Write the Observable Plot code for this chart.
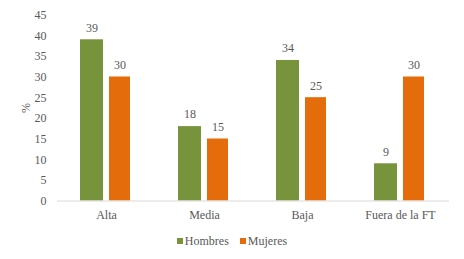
<!DOCTYPE html>
<html>
<head>
<meta charset="utf-8">
<script src="https://cdn.jsdelivr.net/npm/d3@7"></script>
<script src="https://cdn.jsdelivr.net/npm/@observablehq/plot@0.6"></script>
<style>
  body { margin: 0; background: #fff; font-family: "Liberation Serif", "DejaVu Serif", serif; }
  #chart { width: 464px; }
  .legend { display: flex; justify-content: center; align-items: center; gap: 11px; font-size: 12px; color: #595959; height: 26px; margin-top: 0px; }
  .legend span.item { display: flex; align-items: center; gap: 2px; }
  .legend span.sw { width: 6px; height: 6px; display: inline-block; }
</style>
</head>
<body>
<div id="chart"></div>
<script>
const categories = ["Alta", "Media", "Baja", "Fuera de la FT"];
const series = ["Hombres", "Mujeres"];
const hombres = [39, 18, 34, 9];
const mujeres = [30, 15, 25, 30];
const yTicks = [0, 5, 10, 15, 20, 25, 30, 35, 40, 45];
const colors = ["#77933C", "#E46C0A"];

const rowsH = categories.map((c, i) => ({cat: c, series: series[0], value: hombres[i]}));
const rowsM = categories.map((c, i) => ({cat: c, series: series[1], value: mujeres[i]}));

const plot = Plot.plot({
  width: 464,
  height: 228,
  marginLeft: 57,
  marginRight: 15,
  marginTop: 14.5,
  marginBottom: 27.5,
  style: {fontFamily: "Liberation Serif", fontSize: "12px", color: "#595959", background: "#fff"},
  x: {domain: categories, padding: 0, label: null},
  y: {domain: [0, 45], label: null},
  color: {domain: series, range: colors},
  marks: [
    Plot.barY(rowsH, {x: "cat", y: "value", fill: "series", insetLeft: 23, insetRight: 52}),
    Plot.barY(rowsM, {x: "cat", y: "value", fill: "series", insetLeft: 52, insetRight: 25}),
    Plot.ruleY([0], {stroke: "#d9d9d9", strokeWidth: 1.2}),
    Plot.text(rowsH, {x: "cat", y: "value", text: d => String(d.value), dx: -14.5, dy: -12, fill: "#595959"}),
    Plot.text(rowsM, {x: "cat", y: "value", text: d => String(d.value), dx: 13.5, dy: -12, fill: "#595959"}),
    Plot.axisX({tickSize: 0, tickPadding: 9, label: null}),
    Plot.axisY({ticks: yTicks, tickSize: 0, tickPadding: 11, label: "%", labelAnchor: "center", labelArrow: "none", labelOffset: 36})
  ]
});
document.getElementById("chart").appendChild(plot);

const legend = document.createElement("div");
legend.className = "legend";
series.forEach((s, i) => {
  const item = document.createElement("span");
  item.className = "item";
  const sw = document.createElement("span");
  sw.className = "sw";
  sw.style.background = colors[i];
  const t = document.createElement("span");
  t.textContent = s;
  item.appendChild(sw);
  item.appendChild(t);
  legend.appendChild(item);
});
document.getElementById("chart").appendChild(legend);
</script>
</body>
</html>
